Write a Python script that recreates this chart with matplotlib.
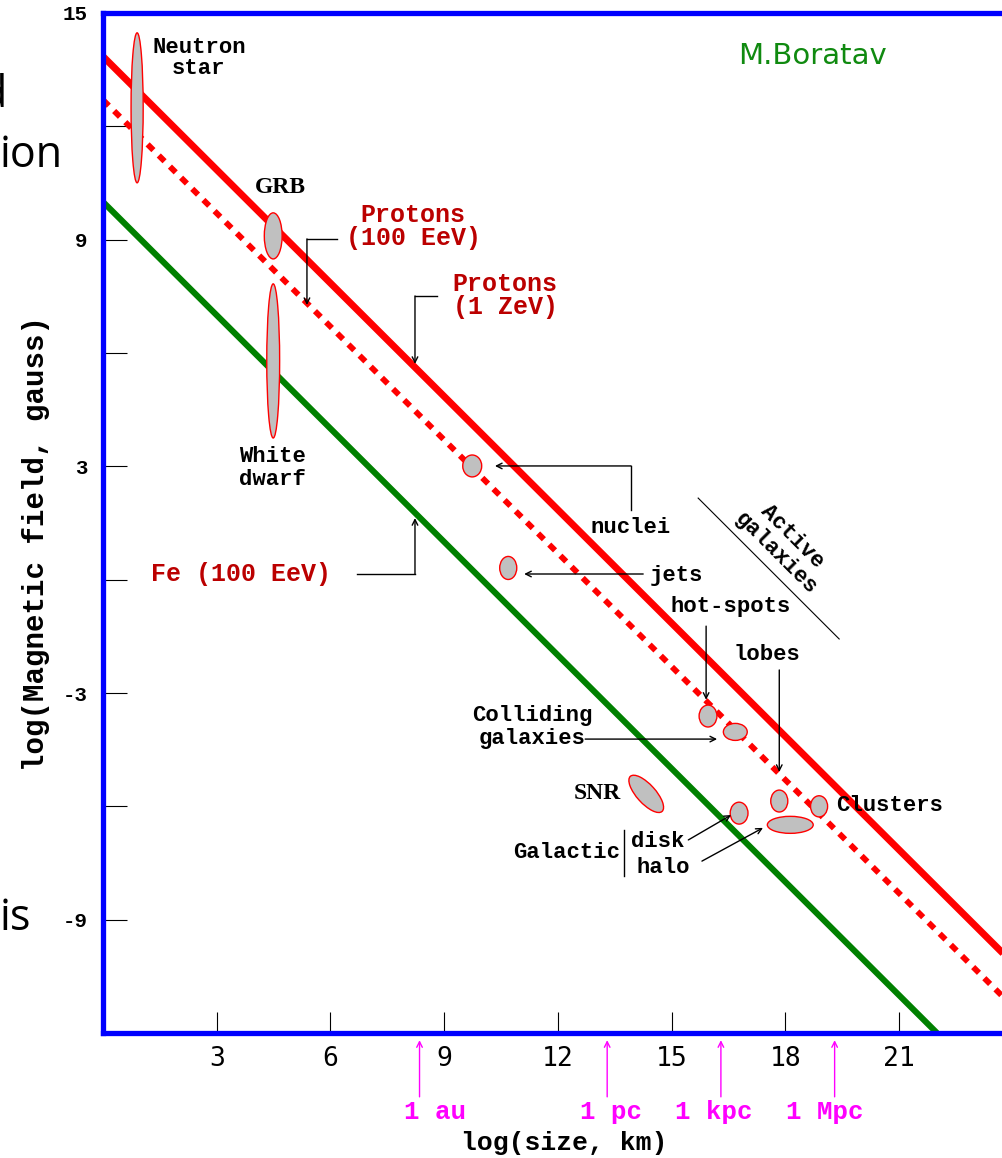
import matplotlib
matplotlib.use("Agg")
import matplotlib.pyplot as plt
from matplotlib.patches import Ellipse

MONO = "Liberation Mono"

# Hillas limits, end points in (log size, log B)
line_x = [0.0, 23.9]
proton_zev = [13.85, -10.05]
proton_100eev = [12.7, -11.2]
fe_x = [0.0, 22.0]
fe_100eev = [10.0, -12.0]

# sources: centre and extent in log size / log B
src_names = ["Neutron star", "GRB", "White dwarf", "nuclei", "jets", "hot-spots",
             "Colliding galaxies", "lobes", "Clusters", "halo", "disk", "SNR"]
src_size = [0.90, 4.49, 4.49, 9.74, 10.69, 15.96, 16.68, 17.84, 18.89, 18.13, 16.78, 14.33]
src_field = [12.49, 9.10, 5.79, 3.01, 0.31, -3.61, -4.03, -5.86, -6.00, -6.49, -6.18, -5.67]
src_dsize = [0.32, 0.47, 0.34, 0.50, 0.45, 0.47, 0.63, 0.45, 0.45, 1.21, 0.47, 1.25]
src_dfield = [3.97, 1.22, 4.08, 0.58, 0.61, 0.58, 0.45, 0.58, 0.56, 0.45, 0.58, 0.50]
src_tilt = [0, 0, 0, 0, 0, 0, 0, 0, 0, 0, 0, -48]

# distance scales on the size axis
scale_names = ["1 au", "1 pc", "1 kpc", "1 Mpc"]
scale_size = [8.35, 13.3, 16.3, 19.3]

x_ticks = [3, 6, 9, 12, 15, 18, 21]
y_major = [-9, -3, 3, 9, 15]
y_minor = [-6, 0, 6, 12]

fig = plt.figure(figsize=(10.03, 11.58), dpi=100)
ax = fig.add_axes([103 / 1003, 125 / 1158, 906 / 1003, 1020 / 1158])
ax.set_xlim(0, 23.9)
ax.set_ylim(-12, 15)

for s in ax.spines.values():
    s.set_color("#0000ff")
    s.set_linewidth(3.8)

ax.set_xticks(x_ticks)
ax.set_xticklabels([str(v) for v in x_ticks], fontfamily="DejaVu Sans Mono", fontsize=19)
ax.set_yticks(y_major)
ax.set_yticks(y_minor, minor=True)
ax.set_yticklabels([str(v) for v in y_major], fontfamily=MONO, fontweight="bold", fontsize=15)
ax.tick_params(which="both", direction="in", color="black", width=0.8, top=False, right=False)
ax.tick_params(axis="x", length=15, pad=9)
ax.tick_params(axis="y", which="both", length=17, pad=11)

ax.set_xlabel("log(size, km)", fontfamily=MONO, fontweight="bold", fontsize=19, va="center")
ax.xaxis.set_label_coords(0.509, -0.108)
ax.set_ylabel("log(Magnetic field, gauss)", fontfamily=MONO, fontweight="bold", fontsize=21)
ax.yaxis.set_label_coords(-0.058, 0.48)

# the three lines
ax.plot(line_x, proton_zev, color="#ff0000", lw=5.0, solid_capstyle="butt")
ax.plot(line_x, proton_100eev, color="#ff0000", lw=4.2, linestyle=(0, (1.4, 1.3)),
        dash_capstyle="butt")
ax.plot(fe_x, fe_100eev, color="#008000", lw=4.4, solid_capstyle="butt")

for x, y, w, h, t in zip(src_size, src_field, src_dsize, src_dfield, src_tilt):
    ax.add_patch(Ellipse((x, y), w, h, angle=t, facecolor="#c0c0c0",
                         edgecolor="#ff0000", lw=1, zorder=3))


def leader(pts, color="black"):
    xs, ys = zip(*pts)
    if len(pts) > 2:
        ax.plot(xs[:-1], ys[:-1], color=color, lw=1, zorder=3)
    ax.annotate("", xy=pts[-1], xytext=pts[-2],
                arrowprops=dict(arrowstyle="->", color=color, lw=1,
                                shrinkA=0, shrinkB=0, mutation_scale=10))


def label(x, y, s, size=16, color="black", **kw):
    ax.text(x, y, s, fontfamily=MONO, fontweight="bold", fontsize=size, color=color,
            ha="center", va="center", multialignment="center", zorder=4, **kw)


DARKRED = "#bb0000"

label(2.53, 13.81, "Neutron\nstar", linespacing=1.0)
ax.text(4.67, 10.39, "GRB", fontfamily="Liberation Serif", fontweight="bold",
        fontsize=17, ha="center", va="center", zorder=4)
label(4.46, 2.96, "White\ndwarf", linespacing=1.15)

label(8.18, 9.34, "Protons\n(100 EeV)", size=18, color=DARKRED, linespacing=0.95)
leader([(6.17, 9.02), (5.38, 9.02), (5.38, 7.27)])
label(10.61, 7.51, "Protons\n(1 ZeV)", size=18, color=DARKRED, linespacing=0.95)
leader([(8.81, 7.51), (8.23, 7.51), (8.23, 5.71)])
label(3.64, 0.15, "Fe (100 EeV)", size=18, color=DARKRED)
leader([(6.70, 0.15), (8.23, 0.15), (8.23, 1.63)])

label(13.91, 1.37, "nuclei")
leader([(13.93, 1.84), (13.93, 3.01), (10.34, 3.01)])
label(15.12, 0.12, "jets")
leader([(14.25, 0.15), (11.11, 0.15)])
label(16.57, -0.72, "hot-spots")
leader([(15.91, -1.23), (15.91, -3.18)])
label(17.52, -1.97, "lobes")
leader([(17.84, -2.39), (17.84, -5.09)])

label(17.97, 0.92, "Active\ngalaxies", rotation=-45, rotation_mode="anchor",
      linespacing=1.15)
ax.plot([15.70, 19.42], [2.16, -1.57], color="black", lw=0.8)

label(11.32, -3.90, "Colliding\ngalaxies", linespacing=1.15)
leader([(12.72, -4.22), (16.20, -4.22)])

ax.text(13.03, -5.67, "SNR", fontfamily="Liberation Serif", fontweight="bold",
        fontsize=17, ha="center", va="center", zorder=4)

label(12.22, -7.23, "Galactic")
ax.plot([13.75, 13.75], [-6.63, -7.84], color="black", lw=1)
label(14.64, -6.94, "disk")
label(14.78, -7.63, "halo")
leader([(15.44, -6.89), (16.57, -6.23)])
leader([(15.80, -7.45), (17.41, -6.57)])

label(20.74, -5.99, "Clusters")

ax.text(16.75, 13.65, "M.Boratav", fontfamily="DejaVu Sans", fontsize=21,
        color="#108a10", ha="left", va="baseline")

# distance scale arrows below the axis
scale_text_x = [8.76, 13.40, 16.12, 19.05]
for x, tx, name in zip(scale_size, scale_text_x, scale_names):
    ax.annotate("", xy=(x, -12.19), xytext=(x, -13.69), annotation_clip=False,
                arrowprops=dict(arrowstyle="->", color="#ff00ff", lw=1,
                                shrinkA=0, shrinkB=0, mutation_scale=10))
    ax.text(tx, -14.09, name, fontfamily=MONO, fontweight="bold", fontsize=18.5,
            color="#ff00ff", ha="center", va="center", clip_on=False)

# leftover slide text at the left edge
fig.text(7 / 1003, 1 - 107 / 1158, "d", fontfamily="Open Sans", fontsize=31,
         ha="right", va="baseline")
fig.text(0, 1 - 167 / 1158, "ion", fontfamily="Open Sans", fontsize=31,
         ha="left", va="baseline")
fig.text(0, 1 - 930 / 1158, "is", fontfamily="Open Sans", fontsize=31,
         ha="left", va="baseline")

fig.savefig("out.png", dpi=100)
